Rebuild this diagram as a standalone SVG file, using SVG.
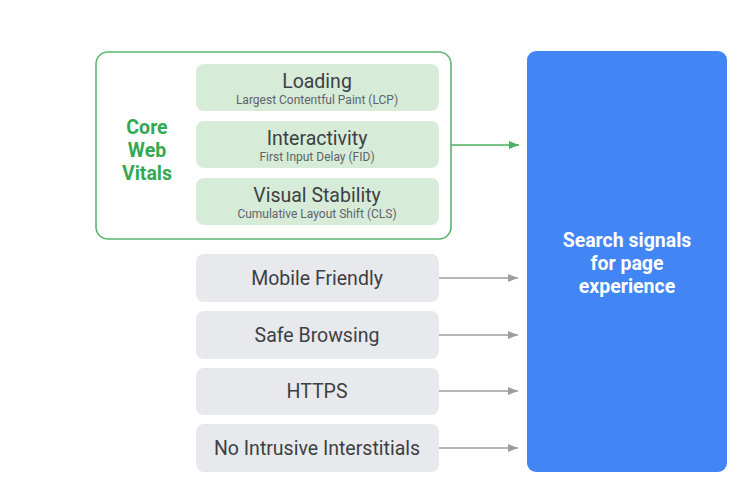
<svg xmlns="http://www.w3.org/2000/svg" width="754" height="497" viewBox="0 0 754 497">
<defs>
<style>
.t{font-family:Roboto,"Liberation Sans",Arial,sans-serif;text-anchor:middle}
.h{font-size:19.5px;fill:#3c4043}
.s{font-size:12px;fill:#5f6368}
.g{font-size:19.5px;fill:#34a853;font-weight:bold}
.w{font-size:19.5px;fill:#ffffff;font-weight:bold}
.gb{fill:#d6ecd9}
.gy{fill:#e8e9ec}
</style>
<marker id="ag" viewBox="0 0 10 10" refX="10" refY="5" markerWidth="10" markerHeight="10" markerUnits="userSpaceOnUse" orient="auto"><path d="M0,1 L10,5 L0,9 z" fill="#4caf62"/></marker>
<marker id="ay" viewBox="0 0 10 10" refX="10" refY="5" markerWidth="10" markerHeight="10" markerUnits="userSpaceOnUse" orient="auto"><path d="M0,1 L10,5 L0,9 z" fill="#9e9e9e"/></marker>
</defs>
<rect width="754" height="497" fill="#ffffff"/>
<g id="core-web-vitals">
<rect x="96" y="52" width="355" height="187" rx="12" fill="none" stroke="#5cb46e" stroke-width="1.6"/>
<text class="t g" x="147" y="134">Core</text>
<text class="t g" x="147" y="157">Web</text>
<text class="t g" x="147" y="180">Vitals</text>
</g>
<g id="loading">
<rect class="gb" x="196" y="64" width="243" height="47" rx="8"/>
<text class="t h" x="317" y="88">Loading</text>
<text class="t s" x="317" y="104">Largest Contentful Paint (LCP)</text>
</g>
<g id="interactivity">
<rect class="gb" x="196" y="121" width="243" height="47" rx="8"/>
<text class="t h" x="317" y="145">Interactivity</text>
<text class="t s" x="317" y="161">First Input Delay (FID)</text>
</g>
<g id="visual-stability">
<rect class="gb" x="196" y="178" width="243" height="47" rx="8"/>
<text class="t h" x="317" y="202">Visual Stability</text>
<text class="t s" x="317" y="218">Cumulative Layout Shift (CLS)</text>
</g>
<g id="mobile-friendly">
<rect class="gy" x="196" y="254" width="243" height="48" rx="8"/>
<text class="t h" x="317" y="285">Mobile Friendly</text>
</g>
<g id="safe-browsing">
<rect class="gy" x="196" y="311" width="243" height="48" rx="8"/>
<text class="t h" x="317" y="342">Safe Browsing</text>
</g>
<g id="https">
<rect class="gy" x="196" y="368" width="243" height="47" rx="8"/>
<text class="t h" x="317" y="398">HTTPS</text>
</g>
<g id="no-intrusive">
<rect class="gy" x="196" y="424" width="243" height="48" rx="8"/>
<text class="t h" x="317" y="455">No Intrusive Interstitials</text>
</g>
<g id="search-signals">
<rect x="527" y="51" width="200" height="421" rx="9" fill="#4285f4"/>
<text class="t w" x="627" y="247">Search signals</text>
<text class="t w" x="627" y="270">for page</text>
<text class="t w" x="627" y="293">experience</text>
</g>
<g id="connectors">
<line x1="451" y1="145" x2="519" y2="145" stroke="#4caf62" stroke-width="1.6" marker-end="url(#ag)"/>
<line x1="439" y1="278" x2="518" y2="278" stroke="#9e9e9e" stroke-width="1.4" marker-end="url(#ay)"/>
<line x1="439" y1="335" x2="518" y2="335" stroke="#9e9e9e" stroke-width="1.4" marker-end="url(#ay)"/>
<line x1="439" y1="391" x2="518" y2="391" stroke="#9e9e9e" stroke-width="1.4" marker-end="url(#ay)"/>
<line x1="439" y1="448" x2="518" y2="448" stroke="#9e9e9e" stroke-width="1.4" marker-end="url(#ay)"/>
</g>
</svg>
